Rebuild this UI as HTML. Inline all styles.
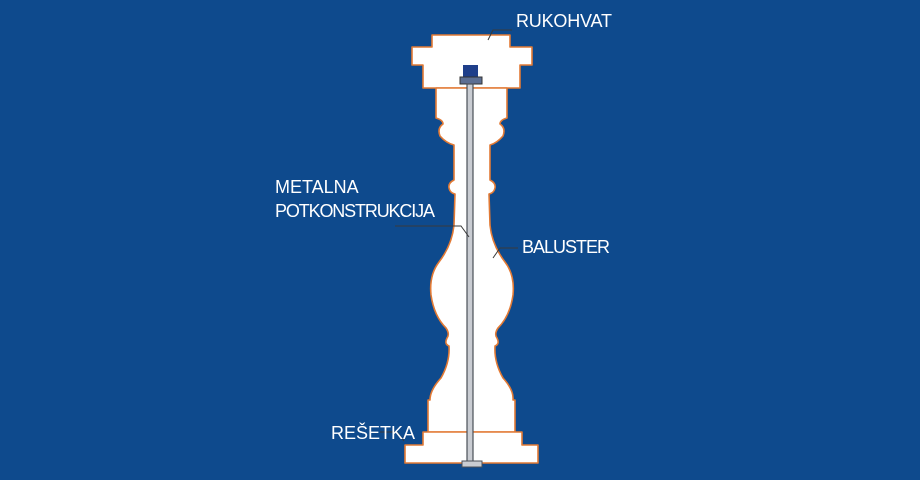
<!DOCTYPE html>
<html><head><meta charset="utf-8"><style>
html,body{margin:0;padding:0;background:#0e4a8d;}
svg{display:block}
text{font-family:"Liberation Sans",sans-serif;fill:#fff;font-size:18px}
</style></head><body>
<svg width="920" height="480" viewBox="0 0 920 480" xmlns="http://www.w3.org/2000/svg">
<rect width="920" height="480" fill="#0e4a8d"/>
<g fill="#fff" stroke="#e27a35" stroke-width="1.6" stroke-linejoin="round">
<path d="M432 35 H510 V47 H532 V65 H520 V88 H423 V65 H412 V47 H432 Z"/>
<path d="M436 88 H507 V118 Q500 120 500 124 Q506 128 503 136 Q497 143 490 145
 L490 180 Q496 183 495 188 Q494 193 489 194
 L490 225 Q492 245 505 262 Q515 275 513 295 Q510 316 498 328 Q494 334 497 338 Q500 344 495 346
 Q494 362 503 378 Q514 390 513 400 H515 V432 H428 V400 H430 Q430 390 441 378 Q450 362 449 346
 Q444 344 447 338 Q450 334 446 328 Q434 316 431 295 Q429 275 439 262 Q452 245 454 225
 L455 194 Q450 193 449 188 Q448 183 454 180 L454 145 Q446 143 440 136 Q437 128 443 124 Q443 120 436 118 Z"/>
<path d="M423 432 H522 V445 H538 V463 H405 V445 H423 Z"/>
</g>
<rect x="463" y="65" width="15" height="13" fill="#1f3f8a"/>
<rect x="460" y="77" width="22" height="7" fill="#5d6f93" stroke="#333" stroke-width="1"/>
<rect x="467" y="84" width="6" height="378" fill="#c9ccd2" stroke="#4a4f58" stroke-width="1.2"/>
<rect x="462" y="461" width="20" height="6" fill="#c9ccd2" stroke="#4a4f58" stroke-width="1"/>
<g fill="none" stroke="#3a3a3a" stroke-width="1">
<path d="M488 40 L493 30 H512"/>
<path d="M395 226 H461 L469 237"/>
<path d="M493 258 L500 248 H518"/>
<path d="M404 441 L397 432 H380"/>
</g>
<text x="516" y="27" textLength="96">RUKOHVAT</text>
<text x="275" y="193">METALNA</text>
<text x="275" y="217" textLength="160">POTKONSTRUKCIJA</text>
<text x="522" y="253" textLength="88">BALUSTER</text>
<text x="331" y="439">REŠETKA</text>
</svg>
</body></html>
